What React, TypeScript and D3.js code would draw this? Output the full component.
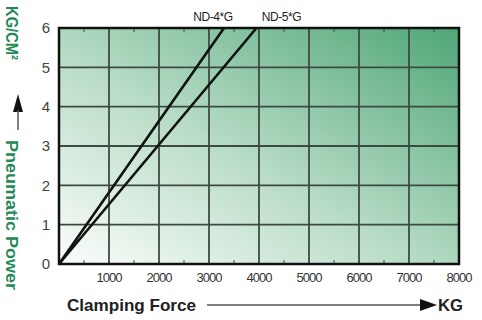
import React from "react";
import * as d3 from "d3";

const xTicks = [1000, 2000, 3000, 4000, 5000, 6000, 7000, 8000];
const yTicks = [0, 1, 2, 3, 4, 5, 6];
const minorTicks = [500, 1500, 2500, 3500, 4500, 5500, 6500, 7500];
const seriesNames = ["ND-4*G", "ND-5*G"];
const seriesEndForce = [3300, 3950];
const seriesEndPressure = [6, 6];
const labelOffsets = [-11, 25];

const W = 482, H = 320;
const M = { left: 59, right: 23, top: 28, bottom: 56 };

export default function App() {
  const x = d3.scaleLinear().domain([0, 8000]).range([M.left, W - M.right]);
  const y = d3.scaleLinear().domain([0, 6]).range([H - M.bottom, M.top]);
  const line = d3.line<[number, number]>().x(d => x(d[0])).y(d => y(d[1]));
  const font = "'Liberation Sans', Arial, sans-serif";
  const green = "#1f8a55";
  return (
    <svg width={W} height={H} style={{ position: "absolute", left: 0, top: 0, background: "#fff" }}>
      <defs>
        <linearGradient id="bg" x1="0" y1="1" x2="1" y2="0">
          <stop offset="0" stopColor="#fbfdfb" />
          <stop offset="0.45" stopColor="#b8dcc6" />
          <stop offset="1" stopColor="#4fa677" />
        </linearGradient>
      </defs>
      <rect x={x(0)} y={y(6)} width={x(8000) - x(0)} height={y(0) - y(6)} fill="url(#bg)" />
      {xTicks.slice(0, -1).map(t => (
        <line key={"gx" + t} x1={x(t)} x2={x(t)} y1={y(0)} y2={y(6)} stroke="#3d4a40" strokeWidth={1.8} />
      ))}
      {yTicks.slice(1, -1).map(t => (
        <line key={"gy" + t} x1={x(0)} x2={x(8000)} y1={y(t)} y2={y(t)} stroke="#3d4a40" strokeWidth={1.8} />
      ))}
      {minorTicks.map(t => (
        <g key={"m" + t}>
          <line x1={x(t)} x2={x(t)} y1={y(0)} y2={y(0) - 4} stroke="#3d4a40" strokeWidth={1} />
          <line x1={x(t)} x2={x(t)} y1={y(6)} y2={y(6) + 4} stroke="#3d4a40" strokeWidth={1} />
        </g>
      ))}
      <rect x={x(0)} y={y(6)} width={x(8000) - x(0)} height={y(0) - y(6)} fill="none" stroke="#111" strokeWidth={2.5} />
      {seriesNames.map((n, i) => (
        <g key={n}>
          <path d={line([[0, 0], [seriesEndForce[i], seriesEndPressure[i]]]) || ""} stroke="#111" strokeWidth={2.6} fill="none" />
          <text x={x(seriesEndForce[i]) + labelOffsets[i]} y={y(6) - 7} textAnchor="middle" fontFamily={font} fontSize={12} fill="#222" letterSpacing={-0.4}>{n}</text>
        </g>
      ))}
      {yTicks.map(t => (
        <text key={"yl" + t} x={x(0) - 13} y={y(t)} dy="0.35em" textAnchor="middle" fontFamily={font} fontSize={15} fill="#444">{t}</text>
      ))}
      {xTicks.map(t => (
        <text key={"xl" + t} x={x(t)} y={y(0) + 18} textAnchor="middle" fontFamily={font} fontSize={13} fill="#333" letterSpacing={-1}>{t}</text>
      ))}
      <text x={67} y={311} fontFamily={font} fontWeight="bold" fontSize={17} fill="#222" textLength={129} lengthAdjust="spacingAndGlyphs">Clamping Force</text>
      <line x1={207} x2={422} y1={305} y2={305} stroke="#555" strokeWidth={1.5} />
      <path d="M420,299 L437,305 L420,311 Z" fill="#111" />
      <text x={438} y={311} fontFamily={font} fontWeight="bold" fontSize={17} fill="#222" textLength={25} lengthAdjust="spacingAndGlyphs">KG</text>
      <g transform="translate(12,6) rotate(90)">
        <text x={0} y={0} dy="0.35em" fontFamily={font} fontWeight="bold" fontSize={16} fill={green} textLength={54} lengthAdjust="spacingAndGlyphs">KG/CM²</text>
      </g>
      <path d="M18,94 L13,112 L23,112 Z" fill="#111" />
      <line x1={18} x2={18} y1={110} y2={130} stroke="#555" strokeWidth={1.5} />
      <g transform="translate(12,140) rotate(90)">
        <text x={0} y={0} dy="0.35em" fontFamily={font} fontWeight="bold" fontSize={16} fill={green} textLength={150} lengthAdjust="spacingAndGlyphs">Pneumatic Power</text>
      </g>
    </svg>
  );
}
